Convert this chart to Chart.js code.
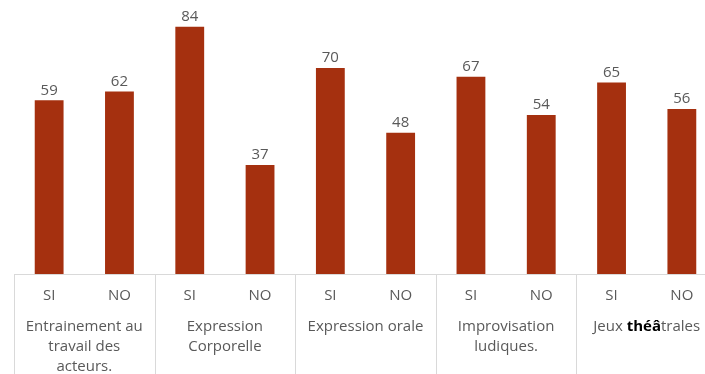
<!DOCTYPE html>
<html lang="fr">
<head>
<meta charset="UTF-8">
<title>SI / NO</title>
<style>
  html, body { margin: 0; padding: 0; background: #fff; overflow: hidden; }
  canvas { display: block; }
</style>
</head>
<body>
<canvas id="myChart" width="718" height="374"></canvas>
<script src="https://cdn.jsdelivr.net/npm/chart.js"></script>
<script>
  // données
  const reponses = ['SI', 'NO', 'SI', 'NO', 'SI', 'NO', 'SI', 'NO', 'SI', 'NO'];
  const valeurs = [59, 62, 84, 37, 70, 48, 67, 54, 65, 56];
  const groupes = [
    ['Entrainement au', 'travail des', 'acteurs.'],
    ['Expression', 'Corporelle'],
    ['Expression orale'],
    ['Improvisation', 'ludiques.'],
    ['Jeux théâtrales']
  ];
  const motGras = 'théâ';

  const gris = '#595959';
  const police = '"Open Sans", sans-serif';

  // étiquettes, séparateurs et libellés de groupes
  const decor = {
    id: 'decor',
    afterDraw(chart) {
      const ctx = chart.ctx;
      const x = chart.scales.x;
      const area = chart.chartArea;
      const meta = chart.getDatasetMeta(0);
      ctx.save();

      // valeurs au-dessus des barres
      ctx.fillStyle = gris;
      ctx.font = '15px ' + police;
      ctx.textAlign = 'center';
      ctx.textBaseline = 'middle';
      meta.data.forEach((bar, i) => {
        ctx.fillText(valeurs[i], bar.x, bar.y - 10);
      });

      // lignes verticales entre les groupes
      const pas = x.getPixelForValue(1) - x.getPixelForValue(0);
      ctx.strokeStyle = '#d9d9d9';
      ctx.lineWidth = 1;
      for (let g = 0; g <= groupes.length; g++) {
        const px = Math.round(x.getPixelForValue(g * 2) - pas / 2) + 0.5;
        ctx.beginPath();
        ctx.moveTo(px, area.bottom);
        ctx.lineTo(px, chart.height);
        ctx.stroke();
      }

      // libellés de groupes
      ctx.fillStyle = gris;
      groupes.forEach((lignes, g) => {
        const cx = (x.getPixelForValue(g * 2) + x.getPixelForValue(g * 2 + 1)) / 2;
        lignes.forEach((txt, k) => {
          const y = area.bottom + 53 + k * 19.7;
          const pos = txt.indexOf(motGras);
          if (pos < 0) {
            ctx.font = '15px ' + police;
            ctx.textAlign = 'center';
            ctx.fillText(txt, cx, y);
          } else {
            const avant = txt.slice(0, pos);
            const apres = txt.slice(pos + motGras.length);
            ctx.font = '15px ' + police;
            const w1 = ctx.measureText(avant).width;
            const w3 = ctx.measureText(apres).width;
            ctx.font = 'bold 15px ' + police;
            const w2 = ctx.measureText(motGras).width;
            let sx = cx - (w1 + w2 + w3) / 2;
            ctx.textAlign = 'left';
            ctx.font = '15px ' + police;
            ctx.fillText(avant, sx, y);
            ctx.font = 'bold 15px ' + police;
            ctx.fillStyle = '#000';
            ctx.fillText(motGras, sx + w1, y);
            ctx.fillStyle = gris;
            ctx.font = '15px ' + police;
            ctx.fillText(apres, sx + w1 + w2, y);
          }
        });
      });
      ctx.restore();
    }
  };

  const ctx = document.getElementById('myChart').getContext('2d');
  new Chart(ctx, {
    type: 'bar',
    data: {
      labels: reponses,
      datasets: [{
        data: valeurs,
        backgroundColor: '#A5300F',
        borderWidth: 0,
        barPercentage: 0.41,
        categoryPercentage: 1
      }]
    },
    options: {
      responsive: false,
      animation: false,
      layout: { padding: { left: 14, right: 1, top: 9, bottom: 0 } },
      plugins: {
        legend: { display: false },
        tooltip: { enabled: false }
      },
      scales: {
        y: {
          display: false,
          min: 0,
          max: 90
        },
        x: {
          grid: { display: false, drawTicks: false },
          border: { display: true, color: '#d9d9d9', width: 1 },
          ticks: {
            color: gris,
            font: { family: police, size: 15 },
            padding: 13,
            maxRotation: 0
          },
          afterFit: (scale) => { scale.height = 100; }
        }
      }
    },
    plugins: [decor]
  });
</script>
</body>
</html>
